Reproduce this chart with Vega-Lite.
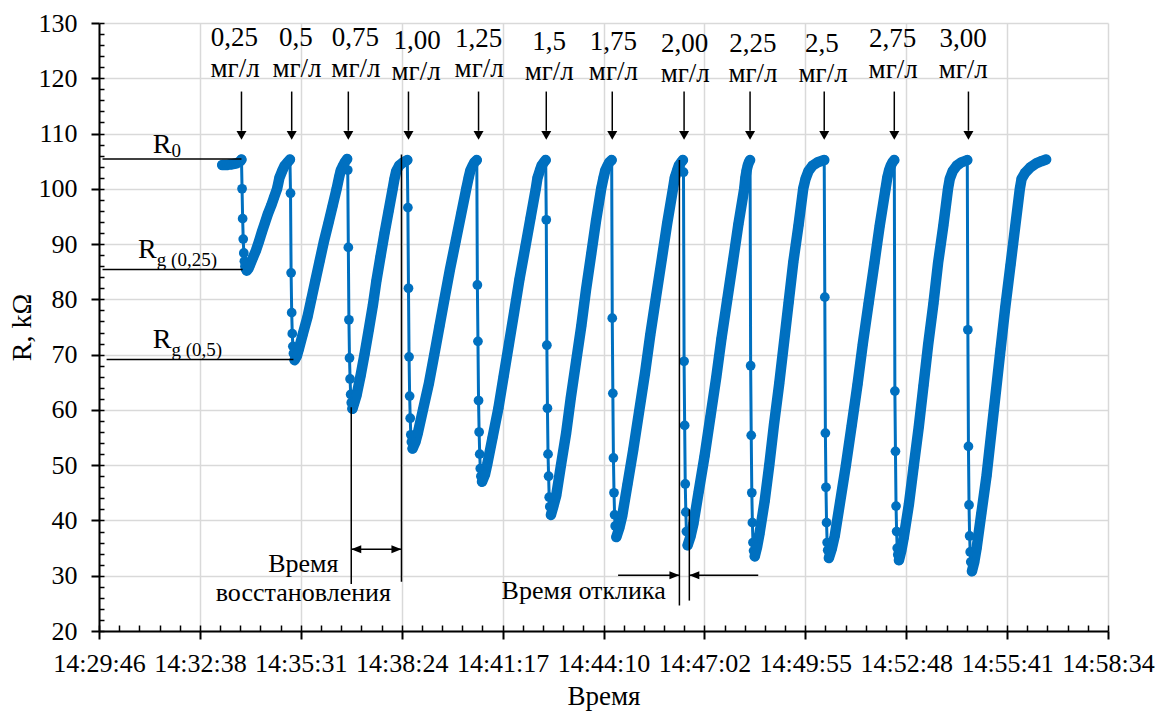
{
"$schema":"https://vega.github.io/schema/vega-lite/v6.json",
"width":1009,"height":608,
"autosize":"none",
"padding":{"left":99,"top":23,"right":49,"bottom":82},
"config":{"view":{"stroke":null},"font":"'Liberation Serif', 'Times New Roman', serif"},
"resolve":{"axis":{"x":"independent","y":"independent"}},
"layer":[
{"data":{"format":{"parse":{"time":"date:'%H:%M:%S'"}},"values":[
{"time":"14:35:36","R":30.6,"label":"Время"},{"time":"14:35:36","R":25.5,"label":"восстановления"},{"time":"14:43:36","R":25.8,"label":"Время отклика"}]},
 "mark":{"type":"text","font":"'Liberation Serif', 'Times New Roman', serif","fontSize":26,"align":"center","baseline":"alphabetic","color":"#000"},
 "encoding":{
  "x":{"field":"time","type":"temporal",
   "scale":{"domain":[{"year":1900,"hours":14,"minutes":29,"seconds":46},{"year":1900,"hours":14,"minutes":58,"seconds":34}],"nice":false},
   "axis":{"orient":"bottom","format":"%H:%M:%S",
    "values":[{"year":1900,"hours":14,"minutes":29,"seconds":46},{"year":1900,"hours":14,"minutes":32,"seconds":38,"milliseconds":800},{"year":1900,"hours":14,"minutes":35,"seconds":31,"milliseconds":600},{"year":1900,"hours":14,"minutes":38,"seconds":24,"milliseconds":400},{"year":1900,"hours":14,"minutes":41,"seconds":17,"milliseconds":200},{"year":1900,"hours":14,"minutes":44,"seconds":10},{"year":1900,"hours":14,"minutes":47,"seconds":2,"milliseconds":800},{"year":1900,"hours":14,"minutes":49,"seconds":55,"milliseconds":600},{"year":1900,"hours":14,"minutes":52,"seconds":48,"milliseconds":400},{"year":1900,"hours":14,"minutes":55,"seconds":41,"milliseconds":200},{"year":1900,"hours":14,"minutes":58,"seconds":34}],
    "labelFont":"'Liberation Serif', 'Times New Roman', serif","labelFontSize":26,"labelColor":"#000","labelPadding":11,"labelFlush":false,"labelOverlap":false,"labelAngle":0,
    "tickSize":8,"tickColor":"#000","tickWidth":2,"domainColor":"#000","domainWidth":2,
    "grid":true,"gridColor":"#d9d9d9","gridWidth":1.5,
    "title":"Время","titleFont":"'Liberation Serif', 'Times New Roman', serif","titleFontSize":27,"titleFontWeight":"normal","titleColor":"#000","titlePadding":7}},
  "y":{"field":"R","type":"quantitative",
   "scale":{"domain":[20,130],"nice":false,"zero":false},
   "axis":{"orient":"left","values":[20,30,40,50,60,70,80,90,100,110,120,130],
    "labelFont":"'Liberation Serif', 'Times New Roman', serif","labelFontSize":26,"labelColor":"#000","labelPadding":14,"labelFlush":false,"labelOverlap":false,
    "tickSize":8,"tickColor":"#000","tickWidth":2,"domainColor":"#000","domainWidth":2,
    "grid":true,"gridColor":"#d9d9d9","gridWidth":1.5,
    "title":"R, kΩ","titleFont":"'Liberation Serif', 'Times New Roman', serif","titleFontSize":28,"titleFontWeight":"normal","titleColor":"#000","titlePadding":2}},
  "text":{"field":"label"}}},
{"data":{"format":{"parse":{"time":"date:'%H:%M:%S'"}},"values":[
{"time":"14:33:17","R":104.3,"phase":"rise","cycle":0},{"time":"14:33:21","R":104.3,"phase":"rise","cycle":0},{"time":"14:33:25","R":104.3,"phase":"rise","cycle":0},{"time":"14:33:29","R":104.4,"phase":"rise","cycle":0},{"time":"14:33:33","R":104.4,"phase":"rise","cycle":0},{"time":"14:33:37","R":104.5,"phase":"rise","cycle":0},{"time":"14:33:41","R":104.6,"phase":"rise","cycle":0},{"time":"14:33:45","R":104.8,"phase":"rise","cycle":0},{"time":"14:33:48","R":105.0,"phase":"rise","cycle":0},{"time":"14:33:50","R":105.3,"phase":"rise","cycle":0},
{"time":"14:33:51","R":100.0,"phase":"drop","cycle":1},{"time":"14:33:52","R":94.6,"phase":"drop","cycle":1},{"time":"14:33:53","R":90.9,"phase":"drop","cycle":1},{"time":"14:33:54","R":88.4,"phase":"drop","cycle":1},{"time":"14:33:55","R":86.9,"phase":"drop","cycle":1},{"time":"14:33:56","R":86.0,"phase":"drop","cycle":1},{"time":"14:33:57","R":85.5,"phase":"drop","cycle":1},
{"time":"14:33:59","R":85.2,"phase":"rise","cycle":1},{"time":"14:34:02","R":85.6,"phase":"rise","cycle":1},{"time":"14:34:04","R":86.1,"phase":"rise","cycle":1},{"time":"14:34:09","R":87.4,"phase":"rise","cycle":1},{"time":"14:34:15","R":88.9,"phase":"rise","cycle":1},{"time":"14:34:20","R":90.5,"phase":"rise","cycle":1},{"time":"14:34:25","R":92.2,"phase":"rise","cycle":1},{"time":"14:34:30","R":93.8,"phase":"rise","cycle":1},{"time":"14:34:35","R":95.4,"phase":"rise","cycle":1},{"time":"14:34:41","R":97.0,"phase":"rise","cycle":1},{"time":"14:34:46","R":98.5,"phase":"rise","cycle":1},{"time":"14:34:51","R":100.0,"phase":"rise","cycle":1},{"time":"14:34:55","R":102.0,"phase":"rise","cycle":1},{"time":"14:35:00","R":103.3,"phase":"rise","cycle":1},{"time":"14:35:04","R":104.2,"phase":"rise","cycle":1},{"time":"14:35:09","R":104.8,"phase":"rise","cycle":1},{"time":"14:35:13","R":105.3,"phase":"rise","cycle":1},
{"time":"14:35:14","R":99.2,"phase":"drop","cycle":2},{"time":"14:35:15","R":84.8,"phase":"drop","cycle":2},{"time":"14:35:16","R":77.6,"phase":"drop","cycle":2},{"time":"14:35:17","R":73.8,"phase":"drop","cycle":2},{"time":"14:35:18","R":71.5,"phase":"drop","cycle":2},{"time":"14:35:19","R":70.2,"phase":"drop","cycle":2},
{"time":"14:35:21","R":69.0,"phase":"rise","cycle":2},{"time":"14:35:25","R":69.8,"phase":"rise","cycle":2},{"time":"14:35:28","R":70.9,"phase":"rise","cycle":2},{"time":"14:35:35","R":73.7,"phase":"rise","cycle":2},{"time":"14:35:43","R":76.8,"phase":"rise","cycle":2},{"time":"14:35:50","R":80.2,"phase":"rise","cycle":2},{"time":"14:35:57","R":83.6,"phase":"rise","cycle":2},{"time":"14:36:04","R":87.0,"phase":"rise","cycle":2},{"time":"14:36:11","R":90.4,"phase":"rise","cycle":2},{"time":"14:36:19","R":93.8,"phase":"rise","cycle":2},{"time":"14:36:26","R":96.9,"phase":"rise","cycle":2},{"time":"14:36:33","R":100.0,"phase":"rise","cycle":2},{"time":"14:36:37","R":102.0,"phase":"rise","cycle":2},{"time":"14:36:40","R":103.3,"phase":"rise","cycle":2},{"time":"14:36:44","R":104.2,"phase":"rise","cycle":2},{"time":"14:36:47","R":104.8,"phase":"rise","cycle":2},{"time":"14:36:51","R":105.4,"phase":"rise","cycle":2},
{"time":"14:36:52","R":103.4,"phase":"drop","cycle":3},{"time":"14:36:53","R":89.4,"phase":"drop","cycle":3},{"time":"14:36:54","R":76.3,"phase":"drop","cycle":3},{"time":"14:36:55","R":69.4,"phase":"drop","cycle":3},{"time":"14:36:56","R":65.6,"phase":"drop","cycle":3},{"time":"14:36:57","R":62.8,"phase":"drop","cycle":3},{"time":"14:36:58","R":61.3,"phase":"drop","cycle":3},
{"time":"14:37:00","R":60.2,"phase":"rise","cycle":3},{"time":"14:37:03","R":61.2,"phase":"rise","cycle":3},{"time":"14:37:07","R":62.6,"phase":"rise","cycle":3},{"time":"14:37:14","R":66.2,"phase":"rise","cycle":3},{"time":"14:37:21","R":70.2,"phase":"rise","cycle":3},{"time":"14:37:28","R":74.5,"phase":"rise","cycle":3},{"time":"14:37:35","R":78.9,"phase":"rise","cycle":3},{"time":"14:37:41","R":83.3,"phase":"rise","cycle":3},{"time":"14:37:48","R":87.7,"phase":"rise","cycle":3},{"time":"14:37:55","R":92.0,"phase":"rise","cycle":3},{"time":"14:38:02","R":96.0,"phase":"rise","cycle":3},{"time":"14:38:09","R":100.0,"phase":"rise","cycle":3},{"time":"14:38:12","R":101.8,"phase":"rise","cycle":3},{"time":"14:38:15","R":103.2,"phase":"rise","cycle":3},{"time":"14:38:20","R":104.2,"phase":"rise","cycle":3},{"time":"14:38:27","R":104.8,"phase":"rise","cycle":3},{"time":"14:38:34","R":105.2,"phase":"rise","cycle":3},
{"time":"14:38:35","R":96.6,"phase":"drop","cycle":4},{"time":"14:38:36","R":82.0,"phase":"drop","cycle":4},{"time":"14:38:37","R":69.6,"phase":"drop","cycle":4},{"time":"14:38:38","R":62.5,"phase":"drop","cycle":4},{"time":"14:38:39","R":58.5,"phase":"drop","cycle":4},{"time":"14:38:40","R":55.5,"phase":"drop","cycle":4},{"time":"14:38:41","R":54.2,"phase":"drop","cycle":4},
{"time":"14:38:43","R":53.0,"phase":"rise","cycle":4},{"time":"14:38:48","R":54.2,"phase":"rise","cycle":4},{"time":"14:38:52","R":55.8,"phase":"rise","cycle":4},{"time":"14:39:01","R":60.1,"phase":"rise","cycle":4},{"time":"14:39:11","R":64.8,"phase":"rise","cycle":4},{"time":"14:39:20","R":69.9,"phase":"rise","cycle":4},{"time":"14:39:29","R":75.1,"phase":"rise","cycle":4},{"time":"14:39:38","R":80.3,"phase":"rise","cycle":4},{"time":"14:39:47","R":85.4,"phase":"rise","cycle":4},{"time":"14:39:57","R":90.6,"phase":"rise","cycle":4},{"time":"14:40:06","R":95.3,"phase":"rise","cycle":4},{"time":"14:40:15","R":100.0,"phase":"rise","cycle":4},{"time":"14:40:19","R":102.0,"phase":"rise","cycle":4},{"time":"14:40:22","R":103.3,"phase":"rise","cycle":4},{"time":"14:40:26","R":104.2,"phase":"rise","cycle":4},{"time":"14:40:29","R":104.8,"phase":"rise","cycle":4},{"time":"14:40:33","R":105.2,"phase":"rise","cycle":4},
{"time":"14:40:34","R":82.6,"phase":"drop","cycle":5},{"time":"14:40:35","R":72.4,"phase":"drop","cycle":5},{"time":"14:40:36","R":61.7,"phase":"drop","cycle":5},{"time":"14:40:37","R":56.0,"phase":"drop","cycle":5},{"time":"14:40:38","R":52.0,"phase":"drop","cycle":5},{"time":"14:40:39","R":49.4,"phase":"drop","cycle":5},{"time":"14:40:40","R":48.0,"phase":"drop","cycle":5},
{"time":"14:40:42","R":47.0,"phase":"rise","cycle":5},{"time":"14:40:47","R":48.3,"phase":"rise","cycle":5},{"time":"14:40:51","R":50.2,"phase":"rise","cycle":5},{"time":"14:41:00","R":55.0,"phase":"rise","cycle":5},{"time":"14:41:10","R":60.3,"phase":"rise","cycle":5},{"time":"14:41:19","R":66.1,"phase":"rise","cycle":5},{"time":"14:41:28","R":71.9,"phase":"rise","cycle":5},{"time":"14:41:37","R":77.7,"phase":"rise","cycle":5},{"time":"14:41:46","R":83.6,"phase":"rise","cycle":5},{"time":"14:41:56","R":89.4,"phase":"rise","cycle":5},{"time":"14:42:05","R":94.7,"phase":"rise","cycle":5},{"time":"14:42:14","R":100.0,"phase":"rise","cycle":5},{"time":"14:42:17","R":102.0,"phase":"rise","cycle":5},{"time":"14:42:21","R":103.3,"phase":"rise","cycle":5},{"time":"14:42:24","R":104.2,"phase":"rise","cycle":5},{"time":"14:42:28","R":104.8,"phase":"rise","cycle":5},{"time":"14:42:31","R":105.2,"phase":"rise","cycle":5},
{"time":"14:42:32","R":94.4,"phase":"drop","cycle":6},{"time":"14:42:33","R":71.7,"phase":"drop","cycle":6},{"time":"14:42:34","R":60.3,"phase":"drop","cycle":6},{"time":"14:42:35","R":52.0,"phase":"drop","cycle":6},{"time":"14:42:36","R":48.0,"phase":"drop","cycle":6},{"time":"14:42:37","R":44.2,"phase":"drop","cycle":6},{"time":"14:42:38","R":42.5,"phase":"drop","cycle":6},
{"time":"14:42:40","R":41.0,"phase":"rise","cycle":6},{"time":"14:42:44","R":42.5,"phase":"rise","cycle":6},{"time":"14:42:49","R":44.5,"phase":"rise","cycle":6},{"time":"14:42:57","R":49.9,"phase":"rise","cycle":6},{"time":"14:43:06","R":55.8,"phase":"rise","cycle":6},{"time":"14:43:14","R":62.2,"phase":"rise","cycle":6},{"time":"14:43:23","R":68.7,"phase":"rise","cycle":6},{"time":"14:43:32","R":75.2,"phase":"rise","cycle":6},{"time":"14:43:40","R":81.7,"phase":"rise","cycle":6},{"time":"14:43:49","R":88.2,"phase":"rise","cycle":6},{"time":"14:43:57","R":94.1,"phase":"rise","cycle":6},{"time":"14:44:06","R":100.0,"phase":"rise","cycle":6},{"time":"14:44:10","R":102.0,"phase":"rise","cycle":6},{"time":"14:44:13","R":103.3,"phase":"rise","cycle":6},{"time":"14:44:17","R":104.2,"phase":"rise","cycle":6},{"time":"14:44:20","R":104.8,"phase":"rise","cycle":6},{"time":"14:44:24","R":105.2,"phase":"rise","cycle":6},
{"time":"14:44:25","R":76.6,"phase":"drop","cycle":7},{"time":"14:44:26","R":63.0,"phase":"drop","cycle":7},{"time":"14:44:27","R":51.3,"phase":"drop","cycle":7},{"time":"14:44:28","R":45.0,"phase":"drop","cycle":7},{"time":"14:44:29","R":41.0,"phase":"drop","cycle":7},{"time":"14:44:30","R":39.0,"phase":"drop","cycle":7},
{"time":"14:44:32","R":37.0,"phase":"rise","cycle":7},{"time":"14:44:37","R":38.6,"phase":"rise","cycle":7},{"time":"14:44:42","R":40.8,"phase":"rise","cycle":7},{"time":"14:44:51","R":46.5,"phase":"rise","cycle":7},{"time":"14:45:01","R":52.8,"phase":"rise","cycle":7},{"time":"14:45:11","R":59.7,"phase":"rise","cycle":7},{"time":"14:45:21","R":66.6,"phase":"rise","cycle":7},{"time":"14:45:30","R":73.5,"phase":"rise","cycle":7},{"time":"14:45:40","R":80.5,"phase":"rise","cycle":7},{"time":"14:45:50","R":87.4,"phase":"rise","cycle":7},{"time":"14:45:59","R":93.7,"phase":"rise","cycle":7},{"time":"14:46:09","R":100.0,"phase":"rise","cycle":7},{"time":"14:46:12","R":102.0,"phase":"rise","cycle":7},{"time":"14:46:16","R":103.3,"phase":"rise","cycle":7},{"time":"14:46:19","R":104.2,"phase":"rise","cycle":7},{"time":"14:46:23","R":104.8,"phase":"rise","cycle":7},{"time":"14:46:26","R":105.2,"phase":"rise","cycle":7},
{"time":"14:46:27","R":103.0,"phase":"drop","cycle":8},{"time":"14:46:28","R":68.8,"phase":"drop","cycle":8},{"time":"14:46:29","R":57.2,"phase":"drop","cycle":8},{"time":"14:46:30","R":46.6,"phase":"drop","cycle":8},{"time":"14:46:31","R":41.5,"phase":"drop","cycle":8},{"time":"14:46:32","R":38.0,"phase":"drop","cycle":8},
{"time":"14:46:34","R":35.5,"phase":"rise","cycle":8},{"time":"14:46:39","R":37.1,"phase":"rise","cycle":8},{"time":"14:46:44","R":39.4,"phase":"rise","cycle":8},{"time":"14:46:53","R":45.2,"phase":"rise","cycle":8},{"time":"14:47:03","R":51.6,"phase":"rise","cycle":8},{"time":"14:47:13","R":58.7,"phase":"rise","cycle":8},{"time":"14:47:23","R":65.8,"phase":"rise","cycle":8},{"time":"14:47:32","R":72.9,"phase":"rise","cycle":8},{"time":"14:47:42","R":80.0,"phase":"rise","cycle":8},{"time":"14:47:52","R":87.1,"phase":"rise","cycle":8},{"time":"14:48:01","R":93.6,"phase":"rise","cycle":8},{"time":"14:48:11","R":100.0,"phase":"rise","cycle":8},{"time":"14:48:13","R":102.0,"phase":"rise","cycle":8},{"time":"14:48:15","R":103.3,"phase":"rise","cycle":8},{"time":"14:48:17","R":104.2,"phase":"rise","cycle":8},{"time":"14:48:19","R":104.8,"phase":"rise","cycle":8},{"time":"14:48:21","R":105.2,"phase":"rise","cycle":8},
{"time":"14:48:22","R":68.0,"phase":"drop","cycle":9},{"time":"14:48:23","R":55.4,"phase":"drop","cycle":9},{"time":"14:48:24","R":45.0,"phase":"drop","cycle":9},{"time":"14:48:25","R":39.6,"phase":"drop","cycle":9},{"time":"14:48:26","R":36.0,"phase":"drop","cycle":9},{"time":"14:48:27","R":34.5,"phase":"drop","cycle":9},
{"time":"14:48:29","R":33.5,"phase":"rise","cycle":9},{"time":"14:48:33","R":35.2,"phase":"rise","cycle":9},{"time":"14:48:37","R":37.5,"phase":"rise","cycle":9},{"time":"14:48:46","R":43.5,"phase":"rise","cycle":9},{"time":"14:48:54","R":50.1,"phase":"rise","cycle":9},{"time":"14:49:02","R":57.4,"phase":"rise","cycle":9},{"time":"14:49:11","R":64.8,"phase":"rise","cycle":9},{"time":"14:49:19","R":72.1,"phase":"rise","cycle":9},{"time":"14:49:27","R":79.4,"phase":"rise","cycle":9},{"time":"14:49:35","R":86.7,"phase":"rise","cycle":9},{"time":"14:49:44","R":93.4,"phase":"rise","cycle":9},{"time":"14:49:52","R":100.0,"phase":"rise","cycle":9},{"time":"14:49:56","R":101.8,"phase":"rise","cycle":9},{"time":"14:50:01","R":103.2,"phase":"rise","cycle":9},{"time":"14:50:08","R":104.2,"phase":"rise","cycle":9},{"time":"14:50:17","R":104.8,"phase":"rise","cycle":9},{"time":"14:50:28","R":105.2,"phase":"rise","cycle":9},
{"time":"14:50:29","R":80.4,"phase":"drop","cycle":10},{"time":"14:50:30","R":55.8,"phase":"drop","cycle":10},{"time":"14:50:31","R":46.0,"phase":"drop","cycle":10},{"time":"14:50:32","R":39.6,"phase":"drop","cycle":10},{"time":"14:50:33","R":36.0,"phase":"drop","cycle":10},{"time":"14:50:34","R":34.6,"phase":"drop","cycle":10},
{"time":"14:50:36","R":33.2,"phase":"rise","cycle":10},{"time":"14:50:41","R":34.9,"phase":"rise","cycle":10},{"time":"14:50:46","R":37.2,"phase":"rise","cycle":10},{"time":"14:50:55","R":43.2,"phase":"rise","cycle":10},{"time":"14:51:05","R":49.9,"phase":"rise","cycle":10},{"time":"14:51:15","R":57.2,"phase":"rise","cycle":10},{"time":"14:51:25","R":64.6,"phase":"rise","cycle":10},{"time":"14:51:34","R":71.9,"phase":"rise","cycle":10},{"time":"14:51:44","R":79.3,"phase":"rise","cycle":10},{"time":"14:51:54","R":86.6,"phase":"rise","cycle":10},{"time":"14:52:03","R":93.3,"phase":"rise","cycle":10},{"time":"14:52:13","R":100.0,"phase":"rise","cycle":10},{"time":"14:52:16","R":102.0,"phase":"rise","cycle":10},{"time":"14:52:19","R":103.3,"phase":"rise","cycle":10},{"time":"14:52:22","R":104.2,"phase":"rise","cycle":10},{"time":"14:52:25","R":104.8,"phase":"rise","cycle":10},{"time":"14:52:28","R":105.2,"phase":"rise","cycle":10},
{"time":"14:52:29","R":63.4,"phase":"drop","cycle":11},{"time":"14:52:30","R":52.5,"phase":"drop","cycle":11},{"time":"14:52:31","R":42.6,"phase":"drop","cycle":11},{"time":"14:52:32","R":38.0,"phase":"drop","cycle":11},{"time":"14:52:33","R":35.0,"phase":"drop","cycle":11},{"time":"14:52:34","R":33.8,"phase":"drop","cycle":11},
{"time":"14:52:36","R":32.8,"phase":"rise","cycle":11},{"time":"14:52:40","R":34.5,"phase":"rise","cycle":11},{"time":"14:52:44","R":36.8,"phase":"rise","cycle":11},{"time":"14:52:53","R":42.9,"phase":"rise","cycle":11},{"time":"14:53:01","R":49.6,"phase":"rise","cycle":11},{"time":"14:53:10","R":57.0,"phase":"rise","cycle":11},{"time":"14:53:18","R":64.4,"phase":"rise","cycle":11},{"time":"14:53:26","R":71.8,"phase":"rise","cycle":11},{"time":"14:53:35","R":79.2,"phase":"rise","cycle":11},{"time":"14:53:43","R":86.6,"phase":"rise","cycle":11},{"time":"14:53:52","R":93.3,"phase":"rise","cycle":11},{"time":"14:54:00","R":100.0,"phase":"rise","cycle":11},{"time":"14:54:03","R":101.8,"phase":"rise","cycle":11},{"time":"14:54:08","R":103.2,"phase":"rise","cycle":11},{"time":"14:54:15","R":104.2,"phase":"rise","cycle":11},{"time":"14:54:23","R":104.8,"phase":"rise","cycle":11},{"time":"14:54:33","R":105.2,"phase":"rise","cycle":11},
{"time":"14:54:34","R":74.5,"phase":"drop","cycle":12},{"time":"14:54:35","R":53.4,"phase":"drop","cycle":12},{"time":"14:54:36","R":42.8,"phase":"drop","cycle":12},{"time":"14:54:37","R":37.2,"phase":"drop","cycle":12},{"time":"14:54:38","R":34.3,"phase":"drop","cycle":12},{"time":"14:54:39","R":32.5,"phase":"drop","cycle":12},
{"time":"14:54:41","R":30.8,"phase":"rise","cycle":12},{"time":"14:54:45","R":32.5,"phase":"rise","cycle":12},{"time":"14:54:49","R":35.0,"phase":"rise","cycle":12},{"time":"14:54:57","R":41.2,"phase":"rise","cycle":12},{"time":"14:55:06","R":48.1,"phase":"rise","cycle":12},{"time":"14:55:14","R":55.7,"phase":"rise","cycle":12},{"time":"14:55:22","R":63.3,"phase":"rise","cycle":12},{"time":"14:55:30","R":71.0,"phase":"rise","cycle":12},{"time":"14:55:38","R":78.5,"phase":"rise","cycle":12},{"time":"14:55:47","R":86.2,"phase":"rise","cycle":12},{"time":"14:55:55","R":93.1,"phase":"rise","cycle":12},{"time":"14:56:03","R":100.0,"phase":"rise","cycle":12},{"time":"14:56:06","R":101.8,"phase":"rise","cycle":12},{"time":"14:56:12","R":102.9,"phase":"rise","cycle":12},{"time":"14:56:21","R":103.9,"phase":"rise","cycle":12},{"time":"14:56:31","R":104.6,"phase":"rise","cycle":12},{"time":"14:56:40","R":105.0,"phase":"rise","cycle":12},{"time":"14:56:48","R":105.3,"phase":"rise","cycle":12}
]},
"layer":[
{"mark":{"type":"line","color":"#0070c0","strokeWidth":3},
 "encoding":{"x":{"field":"time","type":"temporal","axis":null},"y":{"field":"R","type":"quantitative","axis":null}}},
{"transform":[{"filter":{"field":"phase","equal":"rise"}}],
 "mark":{"type":"line","color":"#0070c0","strokeWidth":10.5,"strokeCap":"round","strokeJoin":"round"},
 "encoding":{"x":{"field":"time","type":"temporal","axis":null},"y":{"field":"R","type":"quantitative","axis":null},"detail":{"field":"cycle","type":"nominal"}}},
{"mark":{"type":"circle","color":"#0070c0","size":95,"opacity":1},
 "encoding":{"x":{"field":"time","type":"temporal","axis":null},"y":{"field":"R","type":"quantitative","axis":null}}}
]},
{"data":{"format":{"parse":{"t1":"date:'%H:%M:%S'","t2":"date:'%H:%M:%S'"}},"values":[
{"t1":"14:29:52","t2":"14:33:50","r1":105.4,"r2":105.4},
{"t1":"14:29:52","t2":"14:33:52","r1":85.4,"r2":85.4},
{"t1":"14:29:59","t2":"14:35:19","r1":69.1,"r2":69.1},
{"t1":"14:36:58","t2":"14:36:58","r1":60.5,"r2":28.5},
{"t1":"14:38:24","t2":"14:38:24","r1":106.2,"r2":28.9},
{"t1":"14:36:58","t2":"14:38:24","r1":34.8,"r2":34.8},
{"t1":"14:46:20","t2":"14:46:20","r1":105.2,"r2":24.6},
{"t1":"14:46:37","t2":"14:46:37","r1":42.0,"r2":25.5},
{"t1":"14:44:35","t2":"14:46:20","r1":30.1,"r2":30.1},
{"t1":"14:46:37","t2":"14:48:35","r1":30.1,"r2":30.1},
{"t1":"14:33:50","t2":"14:33:50","r1":117.6,"r2":110.5},
{"t1":"14:35:16","t2":"14:35:16","r1":117.6,"r2":110.5},
{"t1":"14:36:53","t2":"14:36:53","r1":117.6,"r2":110.5},
{"t1":"14:38:36","t2":"14:38:36","r1":117.6,"r2":110.5},
{"t1":"14:40:36","t2":"14:40:36","r1":117.6,"r2":110.5},
{"t1":"14:42:32","t2":"14:42:32","r1":117.6,"r2":110.5},
{"t1":"14:44:25","t2":"14:44:25","r1":117.6,"r2":110.5},
{"t1":"14:46:28","t2":"14:46:28","r1":117.6,"r2":110.5},
{"t1":"14:48:21","t2":"14:48:21","r1":117.6,"r2":110.5},
{"t1":"14:50:28","t2":"14:50:28","r1":117.6,"r2":110.5},
{"t1":"14:52:28","t2":"14:52:28","r1":117.6,"r2":110.5},
{"t1":"14:54:35","t2":"14:54:35","r1":117.6,"r2":110.5}
]},
 "mark":{"type":"rule","color":"#000","strokeWidth":1.5},
 "encoding":{
  "x":{"field":"t1","type":"temporal",
   "axis":{"orient":"bottom","labels":false,"grid":false,"domain":false,"title":null,"tickSize":-6,"tickColor":"#000","tickWidth":1.5,
    "values":[{"year":1900,"hours":14,"minutes":29,"seconds":46},{"year":1900,"hours":14,"minutes":30,"seconds":20,"milliseconds":560},{"year":1900,"hours":14,"minutes":30,"seconds":55,"milliseconds":120},{"year":1900,"hours":14,"minutes":31,"seconds":29,"milliseconds":680},{"year":1900,"hours":14,"minutes":32,"seconds":4,"milliseconds":240},{"year":1900,"hours":14,"minutes":32,"seconds":38,"milliseconds":800},{"year":1900,"hours":14,"minutes":33,"seconds":13,"milliseconds":360},{"year":1900,"hours":14,"minutes":33,"seconds":47,"milliseconds":920},{"year":1900,"hours":14,"minutes":34,"seconds":22,"milliseconds":480},{"year":1900,"hours":14,"minutes":34,"seconds":57,"milliseconds":40},{"year":1900,"hours":14,"minutes":35,"seconds":31,"milliseconds":600},{"year":1900,"hours":14,"minutes":36,"seconds":6,"milliseconds":160},{"year":1900,"hours":14,"minutes":36,"seconds":40,"milliseconds":720},{"year":1900,"hours":14,"minutes":37,"seconds":15,"milliseconds":280},{"year":1900,"hours":14,"minutes":37,"seconds":49,"milliseconds":840},{"year":1900,"hours":14,"minutes":38,"seconds":24,"milliseconds":400},{"year":1900,"hours":14,"minutes":38,"seconds":58,"milliseconds":960},{"year":1900,"hours":14,"minutes":39,"seconds":33,"milliseconds":520},{"year":1900,"hours":14,"minutes":40,"seconds":8,"milliseconds":80},{"year":1900,"hours":14,"minutes":40,"seconds":42,"milliseconds":640},{"year":1900,"hours":14,"minutes":41,"seconds":17,"milliseconds":200},{"year":1900,"hours":14,"minutes":41,"seconds":51,"milliseconds":760},{"year":1900,"hours":14,"minutes":42,"seconds":26,"milliseconds":320},{"year":1900,"hours":14,"minutes":43,"seconds":0,"milliseconds":880},{"year":1900,"hours":14,"minutes":43,"seconds":35,"milliseconds":440},{"year":1900,"hours":14,"minutes":44,"seconds":10},{"year":1900,"hours":14,"minutes":44,"seconds":44,"milliseconds":560},{"year":1900,"hours":14,"minutes":45,"seconds":19,"milliseconds":120},{"year":1900,"hours":14,"minutes":45,"seconds":53,"milliseconds":680},{"year":1900,"hours":14,"minutes":46,"seconds":28,"milliseconds":240},{"year":1900,"hours":14,"minutes":47,"seconds":2,"milliseconds":800},{"year":1900,"hours":14,"minutes":47,"seconds":37,"milliseconds":360},{"year":1900,"hours":14,"minutes":48,"seconds":11,"milliseconds":920},{"year":1900,"hours":14,"minutes":48,"seconds":46,"milliseconds":480},{"year":1900,"hours":14,"minutes":49,"seconds":21,"milliseconds":40},{"year":1900,"hours":14,"minutes":49,"seconds":55,"milliseconds":600},{"year":1900,"hours":14,"minutes":50,"seconds":30,"milliseconds":160},{"year":1900,"hours":14,"minutes":51,"seconds":4,"milliseconds":720},{"year":1900,"hours":14,"minutes":51,"seconds":39,"milliseconds":280},{"year":1900,"hours":14,"minutes":52,"seconds":13,"milliseconds":840},{"year":1900,"hours":14,"minutes":52,"seconds":48,"milliseconds":400},{"year":1900,"hours":14,"minutes":53,"seconds":22,"milliseconds":960},{"year":1900,"hours":14,"minutes":53,"seconds":57,"milliseconds":520},{"year":1900,"hours":14,"minutes":54,"seconds":32,"milliseconds":80},{"year":1900,"hours":14,"minutes":55,"seconds":6,"milliseconds":640},{"year":1900,"hours":14,"minutes":55,"seconds":41,"milliseconds":200},{"year":1900,"hours":14,"minutes":56,"seconds":15,"milliseconds":760},{"year":1900,"hours":14,"minutes":56,"seconds":50,"milliseconds":320},{"year":1900,"hours":14,"minutes":57,"seconds":24,"milliseconds":880},{"year":1900,"hours":14,"minutes":57,"seconds":59,"milliseconds":440},{"year":1900,"hours":14,"minutes":58,"seconds":34}]}},
  "x2":{"field":"t2"},
  "y":{"field":"r1","type":"quantitative",
   "axis":{"orient":"left","labels":false,"grid":false,"domain":false,"title":null,"tickSize":-5,"tickColor":"#000","tickWidth":1.5,
    "values":[20,22,24,26,28,30,32,34,36,38,40,42,44,46,48,50,52,54,56,58,60,62,64,66,68,70,72,74,76,78,80,82,84,86,88,90,92,94,96,98,100,102,104,106,108,110,112,114,116,118,120,122,124,126,128,130]}},
  "y2":{"field":"r2"}
 }},
{"data":{"format":{"parse":{"time":"date:'%H:%M:%S'"}},"values":[
{"time":"14:33:50","R":108.9},{"time":"14:35:16","R":108.9},{"time":"14:36:53","R":108.9},{"time":"14:38:36","R":108.9},{"time":"14:40:36","R":108.9},{"time":"14:42:32","R":108.9},{"time":"14:44:25","R":108.9},{"time":"14:46:28","R":108.9},{"time":"14:48:21","R":108.9},{"time":"14:50:28","R":108.9},{"time":"14:52:28","R":108.9},{"time":"14:54:35","R":108.9}]},
 "mark":{"type":"point","shape":"M-1,-1.732L1,-1.732L0,0Z","filled":true,"size":100,"color":"#000","opacity":1,"strokeWidth":0},
 "encoding":{"x":{"field":"time","type":"temporal","axis":null},"y":{"field":"R","type":"quantitative","axis":null}}},
{"data":{"format":{"parse":{"time":"date:'%H:%M:%S'"}},"values":[
{"time":"14:36:58","R":34.8},{"time":"14:46:37","R":30.1}]},
 "mark":{"type":"point","shape":"M0,0L2,-0.8L2,0.8Z","filled":true,"size":100,"color":"#000","opacity":1,"strokeWidth":0},
 "encoding":{"x":{"field":"time","type":"temporal","axis":null},"y":{"field":"R","type":"quantitative","axis":null}}},
{"data":{"format":{"parse":{"time":"date:'%H:%M:%S'"}},"values":[
{"time":"14:38:24","R":34.8},{"time":"14:46:20","R":30.1}]},
 "mark":{"type":"point","shape":"M0,0L-2,-0.8L-2,0.8Z","filled":true,"size":100,"color":"#000","opacity":1,"strokeWidth":0},
 "encoding":{"x":{"field":"time","type":"temporal","axis":null},"y":{"field":"R","type":"quantitative","axis":null}}},
{"data":{"format":{"parse":{"time":"date:'%H:%M:%S'"}},"values":[
{"time":"14:33:38","R":125.85,"label":"0,25"},{"time":"14:33:39","R":120.2,"label":"мг/л"},
{"time":"14:35:23","R":125.85,"label":"0,5"},{"time":"14:35:25","R":120.2,"label":"мг/л"},
{"time":"14:37:05","R":125.85,"label":"0,75"},{"time":"14:37:06","R":120.2,"label":"мг/л"},
{"time":"14:38:51","R":125.25,"label":"1,00"},{"time":"14:38:49","R":119.7,"label":"мг/л"},
{"time":"14:40:36","R":125.7,"label":"1,25"},{"time":"14:40:37","R":120.2,"label":"мг/л"},
{"time":"14:42:37","R":125.1,"label":"1,5"},{"time":"14:42:37","R":119.7,"label":"мг/л"},
{"time":"14:44:27","R":125.1,"label":"1,75"},{"time":"14:44:27","R":119.6,"label":"мг/л"},
{"time":"14:46:29","R":124.8,"label":"2,00"},{"time":"14:46:30","R":119.4,"label":"мг/л"},
{"time":"14:48:26","R":124.8,"label":"2,25"},{"time":"14:48:26","R":119.3,"label":"мг/л"},
{"time":"14:50:24","R":124.8,"label":"2,5"},{"time":"14:50:26","R":119.4,"label":"мг/л"},
{"time":"14:52:25","R":125.6,"label":"2,75"},{"time":"14:52:26","R":120.0,"label":"мг/л"},
{"time":"14:54:26","R":125.6,"label":"3,00"},{"time":"14:54:26","R":120.0,"label":"мг/л"}]},
 "mark":{"type":"text","font":"'Liberation Serif', 'Times New Roman', serif","fontSize":27,"align":"center","baseline":"alphabetic","color":"#000"},
 "encoding":{"x":{"field":"time","type":"temporal","axis":null},"y":{"field":"R","type":"quantitative","axis":null},"text":{"field":"label"}}},
{"data":{"format":{"parse":{"time":"date:'%H:%M:%S'"}},"values":[
{"time":"14:31:50","R":106.5,"label":"R"},{"time":"14:31:25","R":87.5,"label":"R"},{"time":"14:31:50","R":71.2,"label":"R"}]},
 "mark":{"type":"text","font":"'Liberation Serif', 'Times New Roman', serif","fontSize":28,"align":"right","baseline":"alphabetic","color":"#000"},
 "encoding":{"x":{"field":"time","type":"temporal","axis":null},"y":{"field":"R","type":"quantitative","axis":null},"text":{"field":"label"}}},
{"data":{"format":{"parse":{"time":"date:'%H:%M:%S'"}},"values":[
{"time":"14:31:50","R":105.8,"label":"0"},{"time":"14:31:25","R":86.0,"label":"g (0,25)"},{"time":"14:31:50","R":69.7,"label":"g (0,5)"}]},
 "mark":{"type":"text","font":"'Liberation Serif', 'Times New Roman', serif","fontSize":19,"align":"left","baseline":"alphabetic","color":"#000"},
 "encoding":{"x":{"field":"time","type":"temporal","axis":null},"y":{"field":"R","type":"quantitative","axis":null},"text":{"field":"label"}}}
]
}
